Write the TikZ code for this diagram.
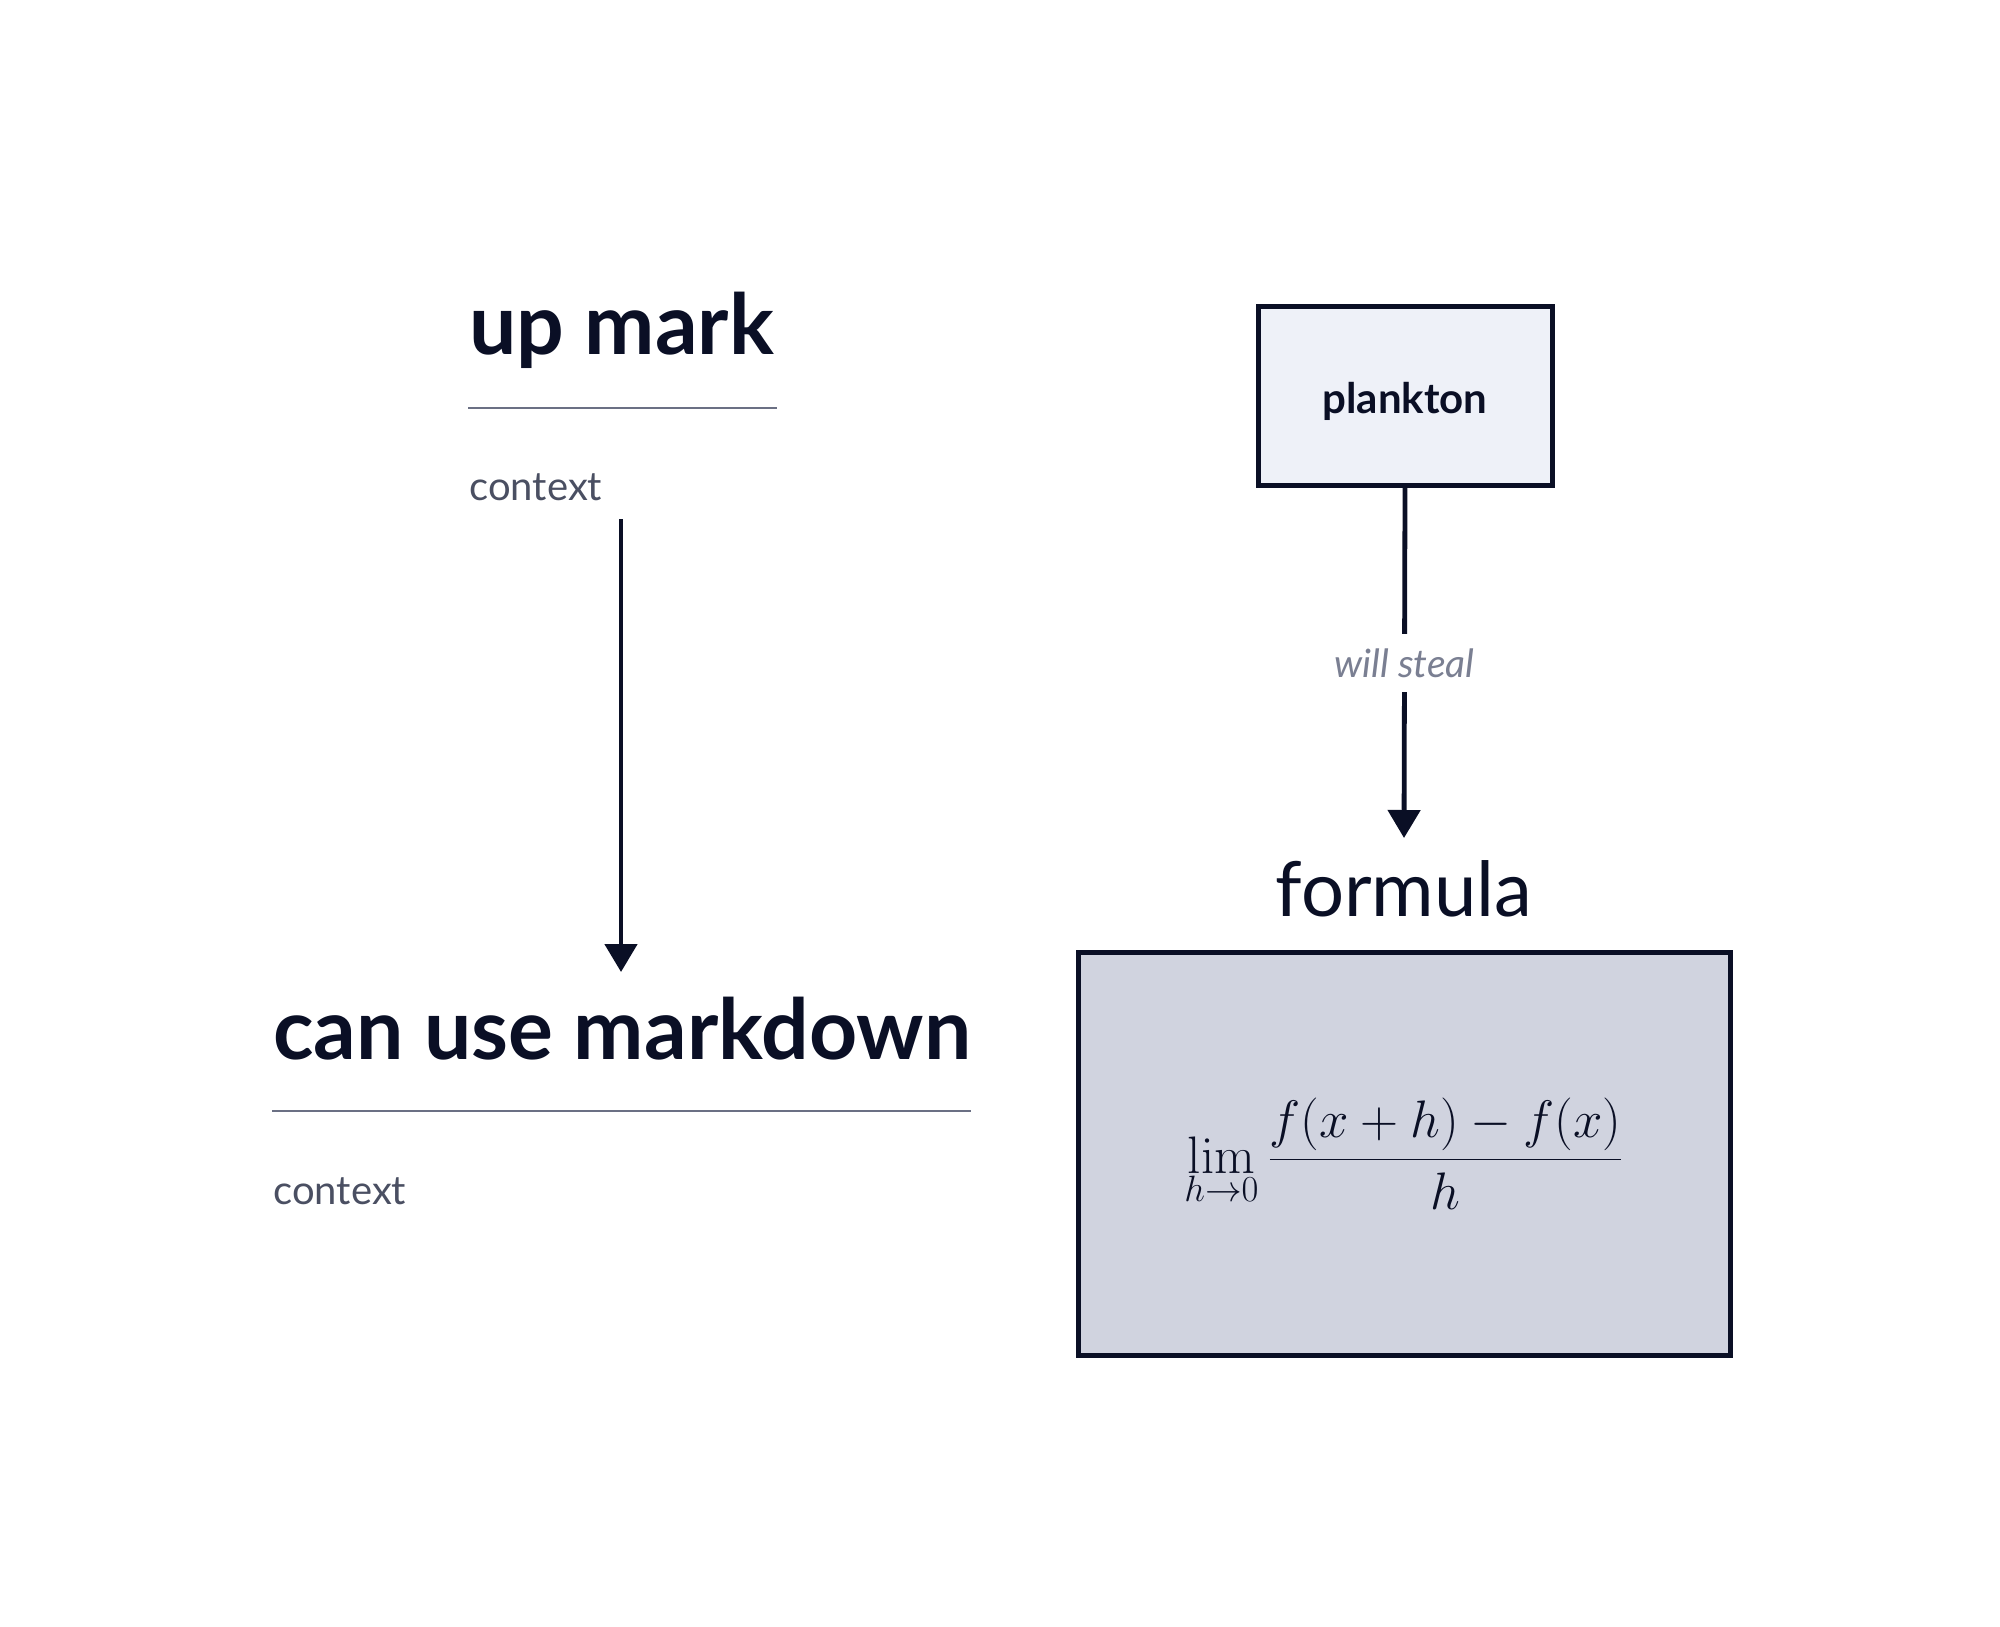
\documentclass[tikz,border=0pt]{standalone}
\usepackage{graphicx}
\usepackage[no-math]{fontspec}
\setmainfont{Lato}
\usetikzlibrary{arrows.meta}
\definecolor{ink}{HTML}{0A0F25}
\definecolor{ctx}{HTML}{4A4F62}
\definecolor{rulec}{HTML}{6B7084}
\definecolor{lbl}{HTML}{7A7F92}
\definecolor{boxA}{HTML}{EEF1F8}
\definecolor{boxB}{HTML}{D0D3DF}
\tikzset{
  title/.style={inner sep=0pt, anchor=base west, text=ink, font=\fontsize{42}{48}\selectfont\bfseries},
  ctxt/.style={inner sep=0pt, anchor=base west, text=ctx, font=\fontsize{20}{24}\selectfont},
  rulel/.style={draw=rulec, line width=1.3pt},
  conn/.style={draw=ink, line width=2.4pt, -{Triangle[width=16pt,length=14pt]}},
  boxa/.style={draw=ink, line width=2.5pt, fill=boxA, minimum width=147pt, minimum height=89.5pt, text=ink, font=\fontsize{21}{25}\selectfont\bfseries},
  boxb/.style={draw=ink, line width=2.5pt, fill=boxB, minimum width=326pt, minimum height=201.5pt, text=ink},
  elabel/.style={fill=white, text=lbl, inner xsep=2pt, inner ysep=7pt, font=\fontsize{19.5}{23}\selectfont\itshape},
  formlabel/.style={inner sep=0pt, anchor=base, text=ink, font=\fontsize{38}{44}\selectfont}
}
\begin{document}
\begin{tikzpicture}[x=0.5pt,y=-0.5pt]
\useasboundingbox (0,0) rectangle (2000,1626);
% left column
\node[title] (upmark) at (469,355) {up mark};
\draw[rulel] (468,408) -- (777,408);
\node[ctxt] (ctx1) at (469,500) {context};
\node[title] (canuse) at (273,1059) {can use markdown};
\draw[rulel] (272,1111) -- (971,1111);
\node[ctxt] (ctx2) at (273,1204) {context};
\coordinate (a1) at (621,519);
\coordinate (a2) at (621,972);
\draw[conn] (a1) -- (a2);
% right column
\node[boxa] (plankton) at (1405,396) {\raisebox{-2.5pt}[\height][\depth]{plankton}};
\node[formlabel] (formula) at (1404,916) {formula};
\node[boxb] (fbox) at (1404,1153.5) {\scalebox{1.06}{\fontsize{25}{30}\selectfont$\displaystyle \lim_{h\to 0}\frac{f(x+h)-f(x)}{h}$}};
\coordinate (b2) at (1404,838);
\draw[conn] (plankton.south) -- node[elabel] {will steal} (b2);
\end{tikzpicture}
\end{document}
